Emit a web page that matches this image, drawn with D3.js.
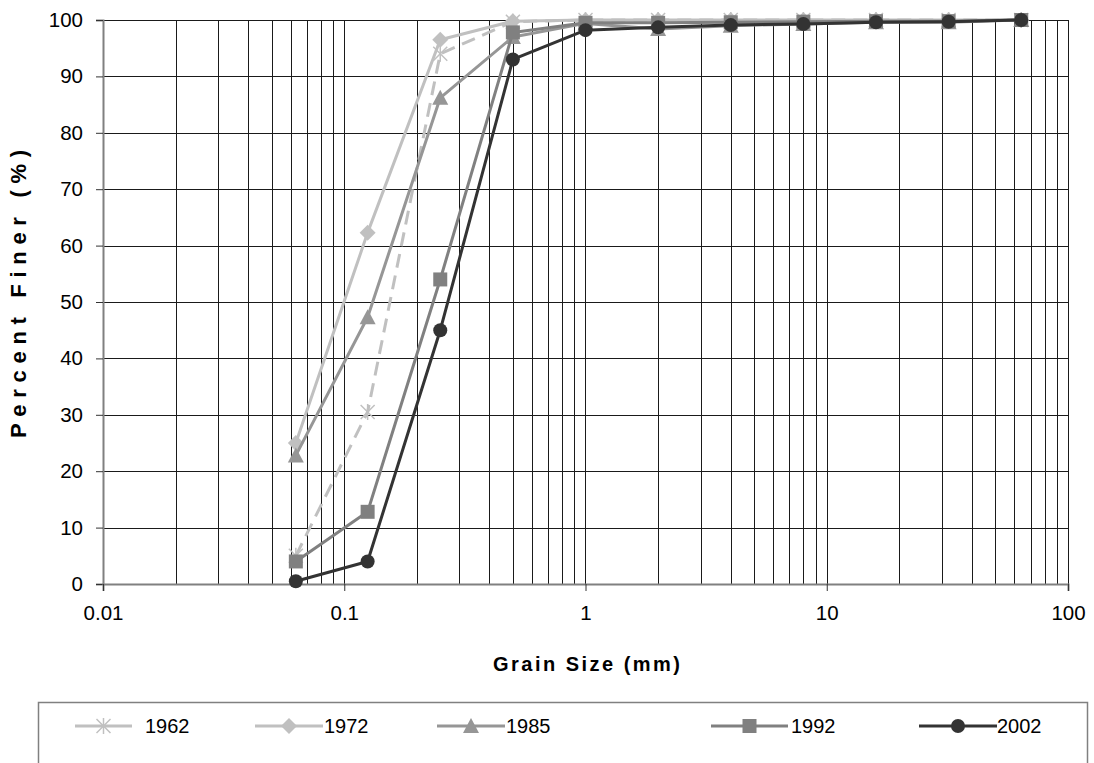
<!DOCTYPE html>
<html><head><meta charset="utf-8">
<script src="https://cdn.jsdelivr.net/npm/d3@7"></script>
<style>body{margin:0;background:#fff}svg{display:block;font-family:"Liberation Sans",Arial,sans-serif}</style>
</head><body><svg id="c" width="1094" height="763"></svg>
<script>
const grainSizes = [0.063, 0.125, 0.25, 0.5, 1, 2, 4, 8, 16, 32, 64];
const years = ["1962", "1972", "1985", "1992", "2002"];
const s1962 = [5, 30.5, 94, 99.7, 100, 100, 100, 100, 100, 100, 100];
const s1972 = [25, 62.3, 96.5, 99.8, 100, 100, 100, 100, 100, 100, 100];
const s1985 = [22.8, 47.3, 86.2, 97, 99.4, 98.4, 99, 99.3, 99.6, 99.6, 100];
const s1992 = [4, 12.8, 54, 97.8, 99.5, 99.5, 99.6, 99.7, 99.8, 99.8, 100];
const s2002 = [0.5, 4, 45, 93, 98.2, 98.7, 99.1, 99.3, 99.6, 99.7, 100];
const xTickLabels = ["0.01", "0.1", "1", "10", "100"];
const yTickValues = [0, 10, 20, 30, 40, 50, 60, 70, 80, 90, 100];

const seriesValues = [s1962, s1972, s1985, s1992, s2002];
const styles = [
  {color: "#c0c0c0", dash: "14,8", marker: "star"},
  {color: "#c0c0c0", dash: null, marker: "diamond"},
  {color: "#969696", dash: null, marker: "triangle"},
  {color: "#808080", dash: null, marker: "square"},
  {color: "#333333", dash: null, marker: "circle"}
];

const svg = d3.select("#c");
const L = 103, R = 1068, T = 20, B = 584;
const x = d3.scaleLog().domain([0.01, 100]).range([L, R]);
const y = d3.scaleLinear().domain([0, 100]).range([B, T]);

// minor + major vertical gridlines
const minor = [];
for (let e = -2; e < 2; e++) for (let m = 1; m <= 9; m++) minor.push(m * Math.pow(10, e));
minor.push(100);
const g = svg.append("g").attr("shape-rendering", "crispEdges");
g.selectAll("line.v").data(minor).enter().append("line")
  .attr("x1", d => Math.round(x(d)) + 0.5).attr("x2", d => Math.round(x(d)) + 0.5)
  .attr("y1", T).attr("y2", B).attr("stroke", "#1a1a1a").attr("stroke-width", 1);
g.selectAll("line.h").data(yTickValues).enter().append("line")
  .attr("x1", L).attr("x2", R)
  .attr("y1", d => Math.round(y(d)) + 0.5).attr("y2", d => Math.round(y(d)) + 0.5)
  .attr("stroke", "#1a1a1a").attr("stroke-width", 1);

// axes
const yAxis = d3.axisLeft(y).tickValues(yTickValues).tickSize(7).tickPadding(13).tickFormat(d3.format("d"));
const ya = svg.append("g").attr("transform", `translate(${L},0)`).call(yAxis);
ya.select(".domain").attr("stroke", "#808080").attr("stroke-width", 2);
ya.selectAll(".tick line").attr("stroke", "#333");
ya.selectAll(".tick text").style("font-size", "20.5px").attr("fill", "#000").style("font-family", "Liberation Sans, Arial, sans-serif");

const xAxis = d3.axisBottom(x).tickValues([0.01, 0.1, 1, 10, 100]).tickSize(7).tickPadding(14)
  .tickFormat((d, i) => xTickLabels[i]);
const xa = svg.append("g").attr("transform", `translate(0,${B})`).call(xAxis);
xa.select(".domain").attr("stroke", "#808080").attr("stroke-width", 2);
xa.selectAll(".tick line").attr("stroke", "#333");
xa.selectAll(".tick text").style("font-size", "20.5px").attr("fill", "#000").style("font-family", "Liberation Sans, Arial, sans-serif");

// titles
svg.append("text").attr("x", (L + R) / 2 + 1).attr("y", 671).attr("text-anchor", "middle")
  .style("font-size", "20px").attr("font-weight", "bold").attr("textLength", 187).attr("lengthAdjust", "spacing")
  .text("Grain Size (mm)");
svg.append("text").attr("transform", `translate(26,${(T + B) / 2 - 8}) rotate(-90)`).attr("text-anchor", "middle")
  .style("font-size", "22px").attr("font-weight", "bold").attr("textLength", 288).attr("lengthAdjust", "spacing")
  .text("Percent Finer (%)");

// markers
function drawMarker(sel, type, color, cx, cy) {
  if (type === "circle") sel.append("circle").attr("cx", cx).attr("cy", cy).attr("r", 7).attr("fill", color);
  else if (type === "square") sel.append("rect").attr("x", cx - 7).attr("y", cy - 7).attr("width", 14).attr("height", 14).attr("fill", color);
  else if (type === "triangle") sel.append("path").attr("d", `M${cx},${cy - 8}L${cx + 8},${cy + 7}L${cx - 8},${cy + 7}Z`).attr("fill", color);
  else if (type === "diamond") sel.append("path").attr("d", `M${cx},${cy - 8}L${cx + 8},${cy}L${cx},${cy + 8}L${cx - 8},${cy}Z`).attr("fill", color);
  else if (type === "star") {
    const p = sel.append("g").attr("stroke", color).attr("stroke-width", 1.5);
    p.append("line").attr("x1", cx).attr("x2", cx).attr("y1", cy - 8).attr("y2", cy + 8);
    p.append("line").attr("x1", cx - 7).attr("x2", cx + 7).attr("y1", cy - 7).attr("y2", cy + 7);
    p.append("line").attr("x1", cx - 7).attr("x2", cx + 7).attr("y1", cy + 7).attr("y2", cy - 7);
  }
}

const line = d3.line().x(d => x(d[0])).y(d => y(d[1]));
seriesValues.forEach((vals, i) => {
  const st = styles[i];
  const pts = grainSizes.map((s, j) => [s, vals[j]]);
  const sg = svg.append("g");
  sg.append("path").attr("d", line(pts)).attr("fill", "none").attr("stroke", st.color)
    .attr("stroke-width", 3).attr("stroke-dasharray", st.dash).attr("stroke-linejoin", "round");
  pts.forEach(p => drawMarker(sg, st.marker, st.color, x(p[0]), y(p[1])));
});

// legend
svg.append("rect").attr("x", 38.5).attr("y", 702.5).attr("width", 1049).attr("height", 80)
  .attr("fill", "none").attr("stroke", "#808080").attr("stroke-width", 1.5);
const legendPos = [
  {x1: 75, x2: 132, tx: 145},
  {x1: 255, x2: 323, tx: 324},
  {x1: 437, x2: 505, tx: 506},
  {x1: 711, x2: 788, tx: 791},
  {x1: 919, x2: 997, tx: 997}
];
const ly = 726;
years.forEach((yr, i) => {
  const st = styles[i], lp = legendPos[i];
  const lg = svg.append("g");
  lg.append("line").attr("x1", lp.x1).attr("x2", lp.x2).attr("y1", ly).attr("y2", ly)
    .attr("stroke", st.color).attr("stroke-width", 3);
  drawMarker(lg, st.marker, st.color, (lp.x1 + lp.x2) / 2, ly);
  lg.append("text").attr("x", lp.tx).attr("y", ly + 7).style("font-size", "20px").text(yr);
});
</script></body></html>
